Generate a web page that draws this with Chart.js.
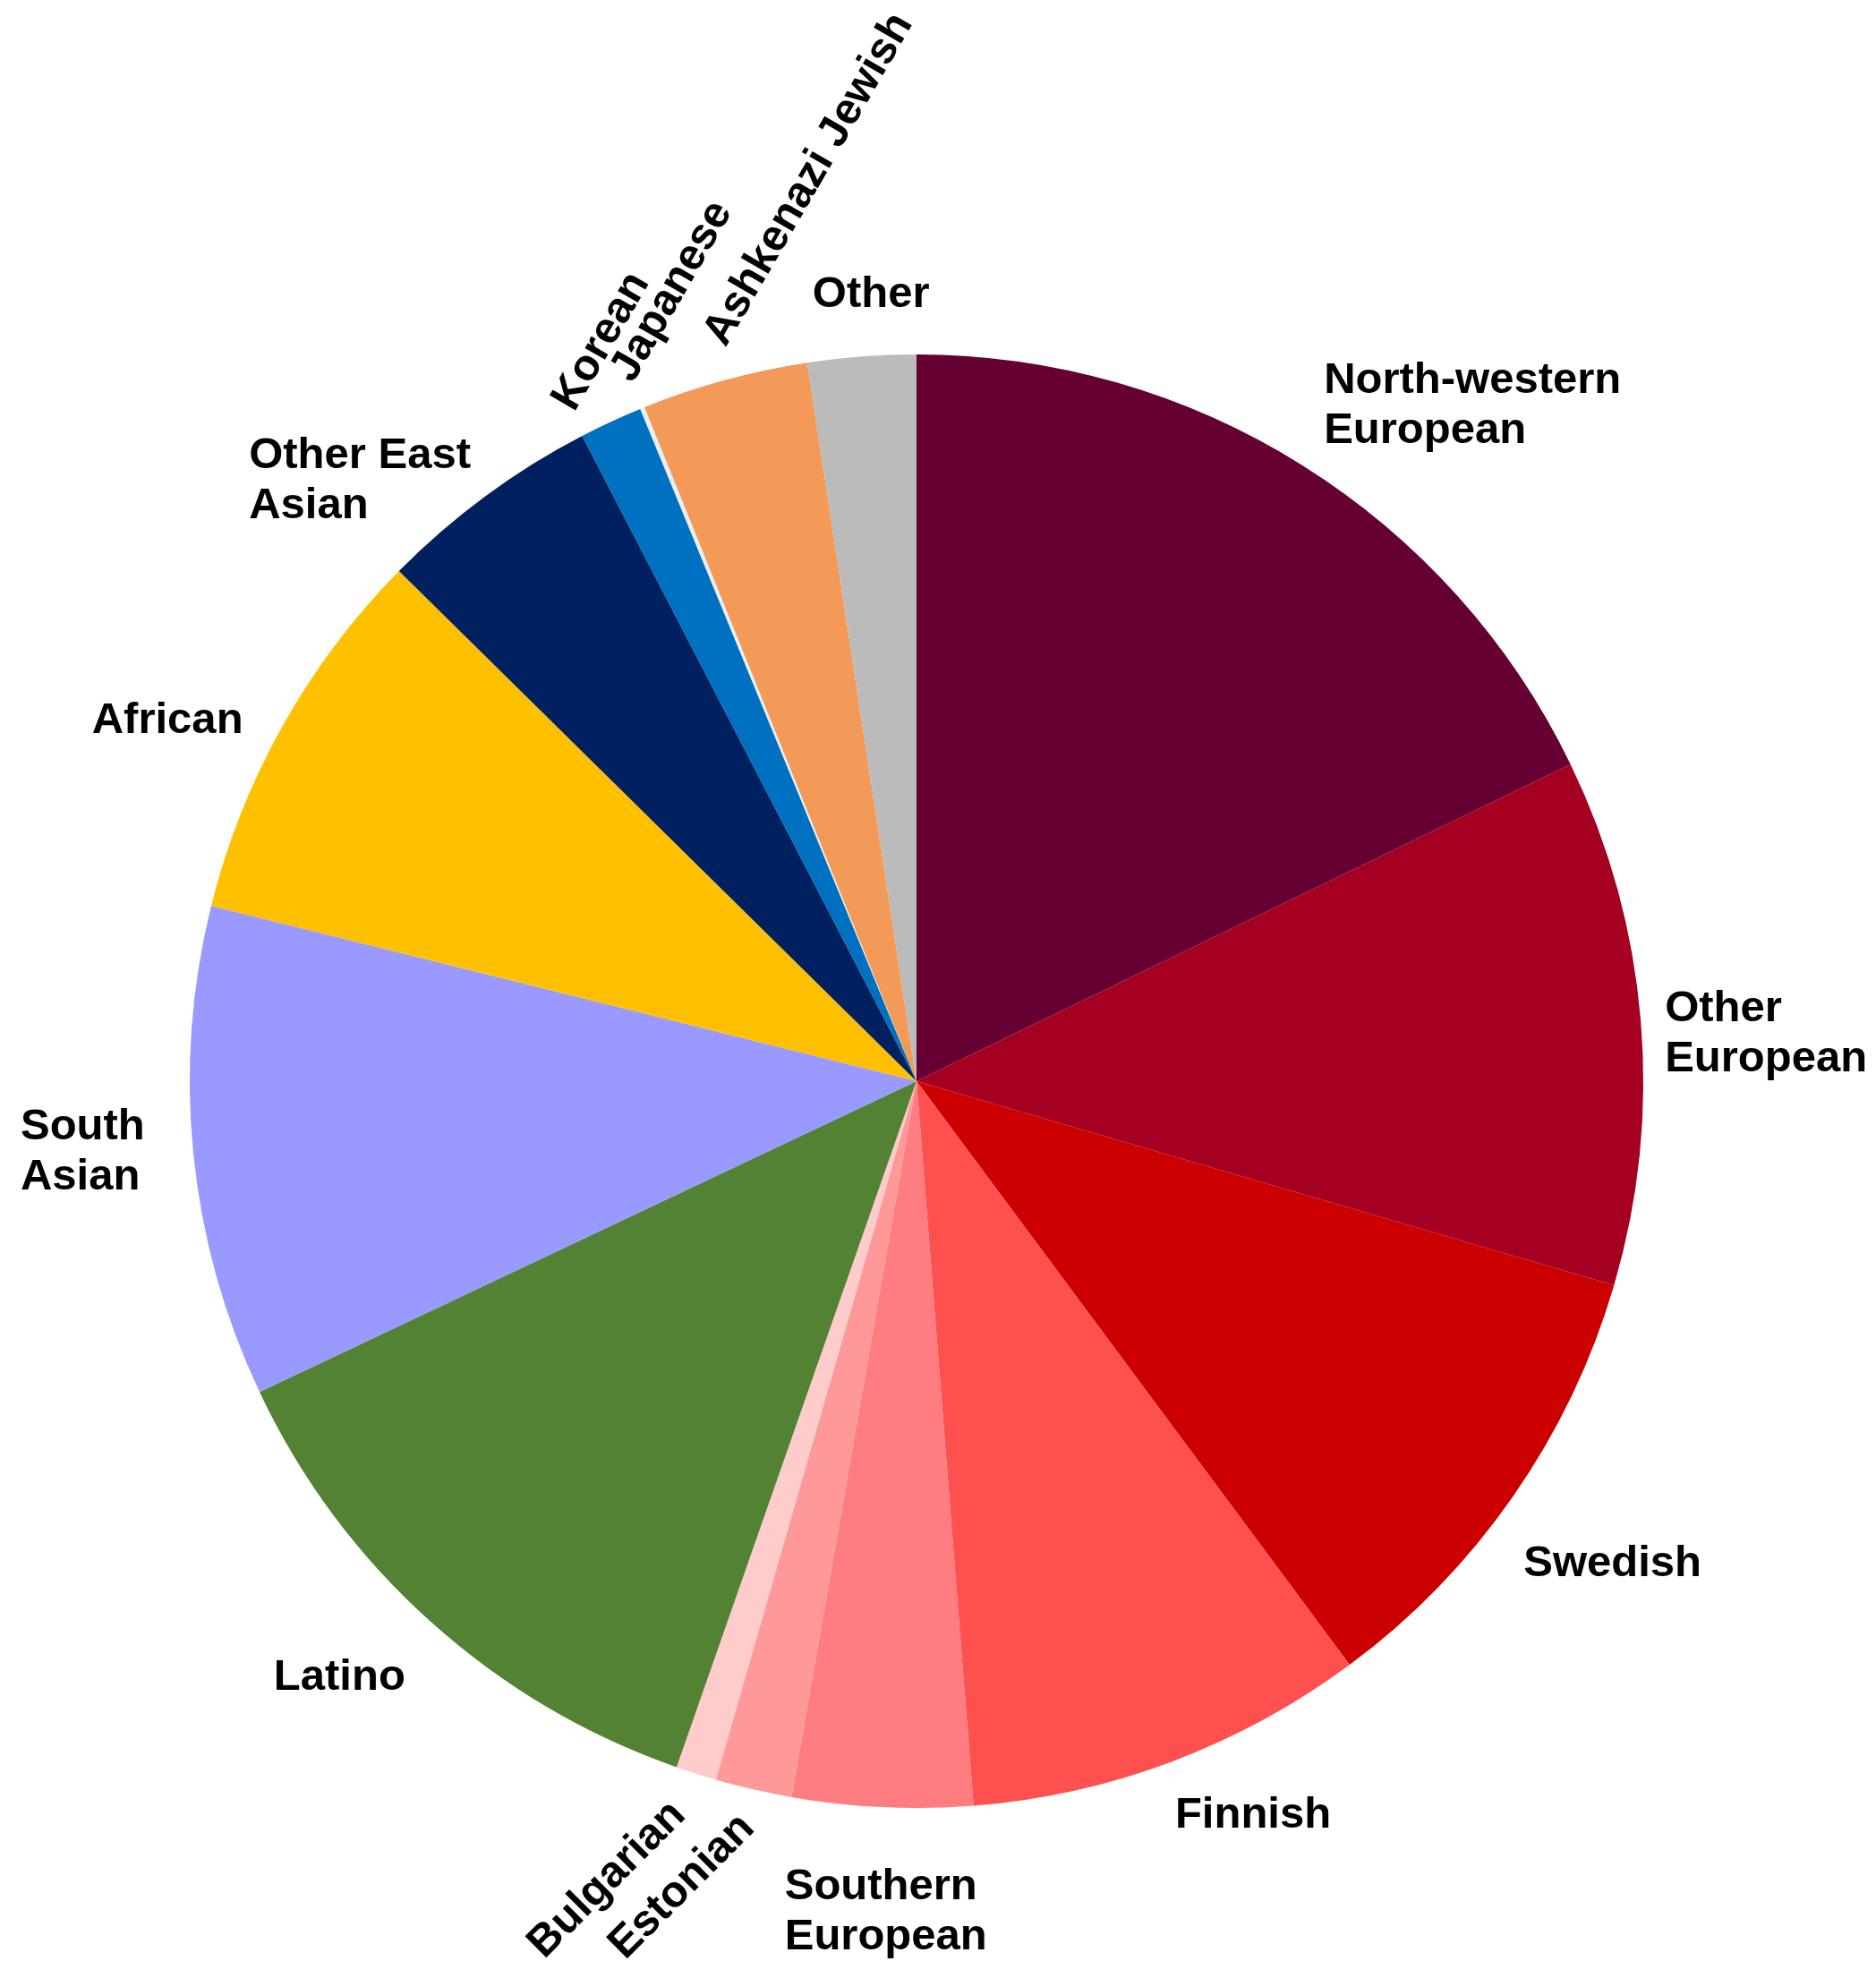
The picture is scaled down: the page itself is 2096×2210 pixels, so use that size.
<!DOCTYPE html>
<html>
<head>
<meta charset="utf-8">
<script src="https://cdn.jsdelivr.net/npm/chart.js@4.4.1/dist/chart.umd.min.js"></script>
<style>
  html, body { margin: 0; padding: 0; background: #ffffff; }
  #wrap { width: 2096px; height: 2210px; }
</style>
</head>
<body>
<div id="wrap"><canvas id="c" width="2096" height="2210"></canvas></div>
<script>
// ---- data (percent of total) ----
const categories = [
  'North-western European', 'Other European', 'Swedish', 'Finnish',
  'Southern European', 'Estonian', 'Bulgarian', 'Latino', 'South Asian',
  'African', 'Other East Asian', 'Korean', 'Japanese', 'Ashkenazi Jewish', 'Other'
];
const shares = [17.8, 11.7, 10.3, 8.9, 4.0, 1.7, 0.9, 12.6, 10.9, 8.5, 5.0, 1.4, 0.1, 3.7, 2.4];
const sliceColors = [
  '#660033', '#A50021', '#CC0000', '#FF5050', '#FF7C80', '#FF9999', '#FFCCCC',
  '#548235', '#9999FF', '#FFC000', '#002060', '#0070C0', '#E6EFF8', '#F39A59', '#BBBBBB'
];
const labelLines = [
  ['North-western', 'European'], ['Other', 'European'], ['Swedish'], ['Finnish'],
  ['Southern', 'European'], ['Estonian'], ['Bulgarian'], ['Latino'], ['South', 'Asian'],
  ['African'], ['Other East', 'Asian'], ['Korean'], ['Japanese'], ['Ashkenazi Jewish'], ['Other']
];
// label placement relative to the slice's outer-edge midpoint (dx, dy, rotation deg, align)
const labelPlacement = [
  {dx: 24, dy: -81, rot: 0, align: 'left'},
  {dx: 27, dy: 1, rot: 0, align: 'left'},
  {dx: 12, dy: 89, rot: 0, align: 'left'},
  {dx: 4, dy: 74, rot: 0, align: 'left'},
  {dx: -109, dy: 103, rot: 0, align: 'left'},
  {dx: 3, dy: 45, rot: -45, align: 'right'},
  {dx: -10, dy: 48, rot: -45, align: 'right'},
  {dx: -175, dy: 76, rot: 0, align: 'left'},
  {dx: -193, dy: -15, rot: 0, align: 'left'},
  {dx: -213, dy: 8, rot: 0, align: 'left'},
  {dx: -264, dy: -31, rot: 0, align: 'left'},
  {dx: -41, dy: -10, rot: -60, align: 'left'},
  {dx: -11, dy: -27, rot: -60, align: 'left'},
  {dx: 1, dy: -36, rot: -60, align: 'left'},
  {dx: -55, dy: -55, rot: 0, align: 'left'}
];

const FONT = 'bold 49px "Liberation Sans", Arial, sans-serif';
const LINE_H = 56;

const outsideLabels = {
  id: 'outsideLabels',
  afterDatasetsDraw(chart) {
    const ctx = chart.ctx;
    const meta = chart.getDatasetMeta(0);
    ctx.save();
    ctx.font = FONT;
    ctx.fillStyle = '#000000';
    ctx.textBaseline = 'alphabetic';
    meta.data.forEach((arc, i) => {
      const p = arc.getProps(['x', 'y', 'startAngle', 'endAngle', 'outerRadius'], true);
      const mid = (p.startAngle + p.endAngle) / 2;
      const ex = p.x + Math.cos(mid) * p.outerRadius;
      const ey = p.y + Math.sin(mid) * p.outerRadius;
      const pl = labelPlacement[i];
      ctx.save();
      ctx.translate(ex + pl.dx, ey + pl.dy);
      ctx.rotate(pl.rot * Math.PI / 180);
      ctx.textAlign = pl.align;
      labelLines[i].forEach((line, j) => {
        ctx.fillText(line, 0, j * LINE_H);
      });
      ctx.restore();
    });
    ctx.restore();
  }
};

new Chart(document.getElementById('c'), {
  type: 'pie',
  data: {
    labels: categories,
    datasets: [{
      data: shares,
      backgroundColor: sliceColors,
      borderWidth: 0,
      hoverOffset: 0,
      offset: 0
    }]
  },
  options: {
    responsive: false,
    animation: false,
    devicePixelRatio: 1,
    events: [],
    layout: { padding: { left: 212, right: 260, top: 396, bottom: 190 } },
    plugins: {
      legend: { display: false },
      tooltip: { enabled: false },
      title: { display: false }
    }
  },
  plugins: [outsideLabels]
});
</script>
</body>
</html>
